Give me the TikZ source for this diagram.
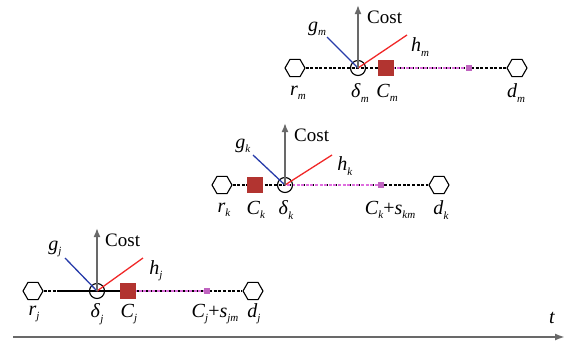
\documentclass[tikz,border=0pt]{standalone}
\usepackage{fontspec}
\setmainfont{Liberation Serif}
\usetikzlibrary{shapes.geometric,arrows.meta}
\pgfdeclarelayer{background}
\pgfsetlayers{background,main}
\definecolor{sqred}{RGB}{178,52,48}
\definecolor{magsq}{RGB}{192,100,192}
\definecolor{pinkln}{RGB}{222,110,222}
\definecolor{gblue}{RGB}{40,60,170}
\definecolor{hred}{RGB}{240,40,40}
\definecolor{arrgray}{RGB}{105,105,105}
\newcommand{\lab}[2]{\textit{#1}\raisebox{-0.22em}{\fontsize{11}{11}\selectfont\textit{#2}}}
\begin{document}
\begin{tikzpicture}[x=1pt,y=-1pt,
  hexnode/.style={draw,regular polygon,regular polygon sides=6,minimum size=20pt,inner sep=0pt,fill=white,line width=1.1pt},
  ring/.style={draw,circle,minimum size=15pt,inner sep=0pt,line width=1.1pt},
  csq/.style={fill=sqred,minimum size=16pt,inner sep=0pt},
  msq/.style={fill=magsq,minimum size=6pt,inner sep=0pt},
  lbl/.style={inner sep=0pt,font=\fontsize{20}{20}\selectfont},
  costlbl/.style={inner sep=0pt,anchor=west,font=\fontsize{19}{19}\selectfont},
  baseline/.style={draw=black,dash pattern=on 3pt off 1.6pt,line width=1.1pt},
  solidseg/.style={draw=black,line width=1.3pt},
  pinkseg/.style={draw=pinkln,dash pattern=on 3pt off 1.6pt,dash phase=2.3pt,line width=1.2pt},
  costarrow/.style={draw=arrgray,line width=1.7pt,-{Latex[length=9pt,width=7pt]}},
  gline/.style={draw=gblue,line width=1.3pt},
  hline/.style={draw=hred,line width=1.3pt},
  timearrow/.style={draw=arrgray,line width=1.8pt,-{Latex[length=10pt,width=7pt]}}]
\useasboundingbox (0,0) rectangle (566,343);

% ---------- row m ----------
\node[hexnode] (rm) at (295,68) {};
\node[ring] (delm) at (358,68) {};
\node[csq] (Cm) at (386,68) {};
\node[msq] (Mm) at (469,68) {};
\node[hexnode] (dm) at (517,68) {};
\coordinate (costmtop) at (358,5);
\coordinate (gmend) at (327,37);
\coordinate (hmend) at (407,35);
\node[costlbl] (costm) at (367,17) {Cost};
\node[lbl] (gmlab) at (317,29) {\lab{g}{m}};
\node[lbl] (hmlab) at (420,47) {\lab{h}{m}};
\node[lbl] (rmlab) at (298,93) {\lab{r}{m}};
\node[lbl] (delmlab) at (360,93) {\lab{δ}{m}};
\node[lbl] (Cmlab) at (387,93) {\lab{C}{m}};
\node[lbl] (dmlab) at (516,93) {\lab{d}{m}};
\begin{pgfonlayer}{background}
\draw[baseline] (rm.east) -- (dm.west);
\draw[pinkseg] (Cm.east) -- (Mm.west);
\end{pgfonlayer}
\draw[gline] (delm.center) -- (gmend);
\draw[hline] (delm.center) -- (hmend);
\draw[costarrow] (delm.center) -- (costmtop);

% ---------- row k ----------
\node[hexnode] (rk) at (222,185) {};
\node[csq] (Ck) at (255,185) {};
\node[ring] (delk) at (285,185) {};
\node[msq] (Mk) at (381,185) {};
\node[hexnode] (dk) at (439,185) {};
\coordinate (costktop) at (285,123);
\coordinate (gkend) at (253,155);
\coordinate (hkend) at (332,155);
\node[costlbl] (costk) at (294,135) {Cost};
\node[lbl] (gklab) at (243,146) {\lab{g}{k}};
\node[lbl] (hklab) at (345,166) {\lab{h}{k}};
\node[lbl] (rklab) at (224,210) {\lab{r}{k}};
\node[lbl] (Cklab) at (256,210) {\lab{C}{k}};
\node[lbl] (delklab) at (286,210) {\lab{δ}{k}};
\node[lbl] (Csklab) at (390,210) {\lab{C}{k}+\lab{s}{km}};
\node[lbl] (dklab) at (441,210) {\lab{d}{k}};
\begin{pgfonlayer}{background}
\draw[baseline] (rk.east) -- (dk.west);
\draw[pinkseg] (delk.center) -- (Mk.west);
\end{pgfonlayer}
\draw[gline] (delk.center) -- (gkend);
\draw[hline] (delk.center) -- (hkend);
\draw[costarrow] (delk.center) -- (costktop);

% ---------- row j ----------
\node[hexnode] (rj) at (33,291) {};
\node[ring] (delj) at (97,291) {};
\node[csq] (Cj) at (128,291) {};
\node[msq] (Mj) at (207,291) {};
\node[hexnode] (dj) at (253,291) {};
\coordinate (soljstart) at (60,291);
\coordinate (costjtop) at (97,228);
\coordinate (gjend) at (65,258);
\coordinate (hjend) at (143,258);
\node[costlbl] (costj) at (105,240) {Cost};
\node[lbl] (gjlab) at (55,249) {\lab{g}{j}};
\node[lbl] (hjlab) at (156,271) {\lab{h}{j}};
\node[lbl] (rjlab) at (34,314) {\lab{r}{j}};
\node[lbl] (deljlab) at (97,314) {\lab{δ}{j}};
\node[lbl] (Cjlab) at (129,314) {\lab{C}{j}};
\node[lbl] (Csjlab) at (215,314) {\lab{C}{j}+\lab{s}{jm}};
\node[lbl] (djlab) at (254,314) {\lab{d}{j}};
\begin{pgfonlayer}{background}
\draw[baseline] (rj.east) -- (dj.west);
\draw[solidseg] (soljstart) -- (Cj.center);
\draw[pinkseg] (Cj.east) -- (Mj.west);
\end{pgfonlayer}
\draw[gline] (delj.center) -- (gjend);
\draw[hline] (delj.center) -- (hjend);
\draw[costarrow] (delj.center) -- (costjtop);

% ---------- time axis ----------
\coordinate (tstart) at (13,337);
\coordinate (tend) at (565,337);
\draw[timearrow] (tstart) -- (tend);
\node[lbl] (tlab) at (552,318) {\textit{t}};
\end{tikzpicture}
\end{document}
